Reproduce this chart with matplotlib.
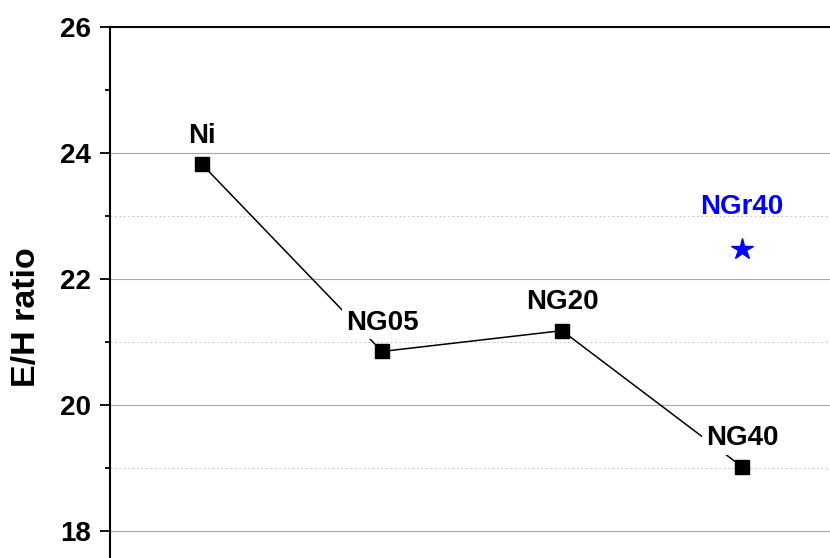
import matplotlib
matplotlib.use("Agg")
import matplotlib.pyplot as plt
from matplotlib.ticker import MultipleLocator

plt.rcParams["font.family"] = ["Liberation Sans", "DejaVu Sans"]
plt.rcParams["font.weight"] = "bold"

# Sample series
samples = ["Ni", "NG05", "NG20", "NG40"]
eh_ratio = [23.82, 20.85, 21.18, 19.02]

# Separate reference sample
ref_label = "NGr40"
ref_pos = 4
ref_value = 22.48

# Horizontal guide levels
solid_grid = [18, 20, 22, 24]
dotted_grid = [19, 21, 23]

W, H = 830, 558
fig = plt.figure(figsize=(W / 100, H / 100), dpi=100)

# Plot frame runs past the right and bottom borders of the canvas
px_per_y = 63.0
px_per_x = 180.0
left_px, top_px = 110, 27
ymin, ymax = 17.0, 26.0
ax_h_px = (ymax - ymin) * px_per_y
ax_w_px = 760
ax = fig.add_axes([left_px / W, 1 - (top_px + ax_h_px) / H, ax_w_px / W, ax_h_px / H])

xmin = 1 - (202 - left_px) / px_per_x
ax.set_xlim(xmin, xmin + ax_w_px / px_per_x)
ax.set_ylim(ymin, ymax)

for g in solid_grid:
    ax.axhline(g, color="#a8a8a8", lw=0.8, ls="-", zorder=0)
for g in dotted_grid:
    ax.axhline(g, color="#c4c4c4", lw=0.8, ls=(0, (1.5, 2.5)), zorder=0)

xs = list(range(1, len(samples) + 1))
ax.plot(xs, eh_ratio, color="black", lw=1.1, marker="s", ms=9.5, zorder=3)
ax.plot([ref_pos], [ref_value], linestyle="none", marker="*", color="#0000ff",
        ms=16, zorder=3)

box = dict(boxstyle="square,pad=0.12", facecolor="white", edgecolor="none")
for x, y, name in zip(xs, eh_ratio, samples):
    ax.annotate(name, (x, y), xytext=(0, 15.5), textcoords="offset points",
                ha="center", va="baseline", fontsize=20, fontweight="bold",
                bbox=box, zorder=4)
ax.annotate(ref_label, (ref_pos, ref_value), xytext=(0, 25),
            textcoords="offset points", ha="center", va="baseline",
            fontsize=20, fontweight="bold", color="#0000ff", zorder=4)

# Axes styling
ax.yaxis.set_major_locator(MultipleLocator(2))
ax.yaxis.set_minor_locator(MultipleLocator(1))
ax.set_xticks([])
ax.tick_params(axis="y", which="major", direction="out", length=7.5, width=1.3,
               pad=6, labelsize=20)
ax.tick_params(axis="y", which="minor", direction="out", length=3.8, width=1.3)
for lab in ax.get_yticklabels():
    lab.set_fontweight("bold")

for side in ["left", "top"]:
    ax.spines[side].set_linewidth(1.5)
ax.spines["right"].set_visible(False)
ax.spines["bottom"].set_visible(False)

fig.text(26 / W, 1 - 317 / H, "E/H ratio", rotation=90, ha="center", va="center",
         fontsize=24.5, fontweight="bold")

fig.savefig("out.png", dpi=100)
